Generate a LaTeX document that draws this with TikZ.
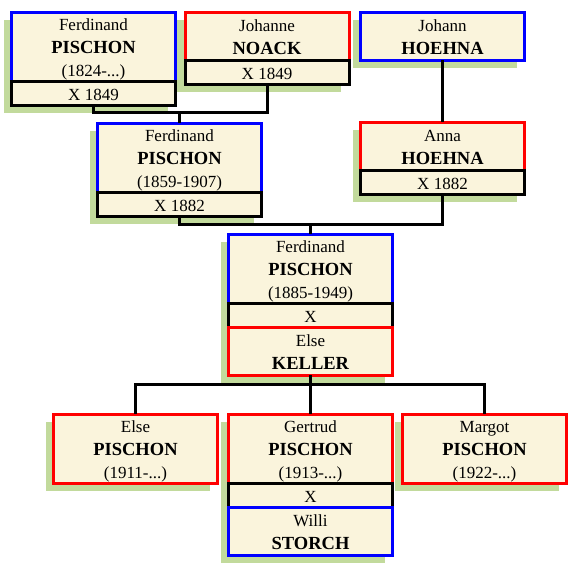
\documentclass[tikz,border=0pt]{standalone}
\usepackage{fontspec}
\setmainfont{Liberation Serif}
\usetikzlibrary{positioning, shadows}
\definecolor{paper}{HTML}{FAF4DC}
\definecolor{leaf}{HTML}{C2DA9C}
\definecolor{husband}{HTML}{0000FF}
\definecolor{wife}{HTML}{FF0000}
\newcommand{\ls}{\rule[-4.5pt]{0pt}{23pt}}
\newcommand{\surname}[1]{{\fontsize{18.5}{23}\selectfont\bfseries #1}}

\begin{document}
\begin{tikzpicture}[x=1pt, y=-1pt,
    person/.style={draw, line width=3pt, fill=paper, inner sep=0pt, outer sep=0pt,
                   minimum width=164pt, minimum height=69pt, align=center,
                   font=\fontsize{17}{23}\selectfont,
                   drop shadow={shadow xshift=-8pt, shadow yshift=-8pt,
                                fill=leaf, opacity=1}},
    male/.style={person, draw=husband},
    female/.style={person, draw=wife},
    wed/.style={person, draw=black, minimum height=24pt},
    link/.style={line width=3pt}]
  \useasboundingbox (0,0) rectangle (570,570);

  % grandparents
  \node[male, anchor=north] (ferd1824) at (93.5,12)
    {\ls Ferdinand\\ \ls\surname{PISCHON}\\ \ls(1824-...)};
  \node[wed, below=0pt of ferd1824] (ferd1824x) {\ls X 1849};
  \node[female, anchor=north, minimum height=48pt] (johanne) at (267,12)
    {\ls Johanne\\ \ls\surname{NOACK}};
  \node[wed, below=0pt of johanne] (johannex) {\ls X 1849};
  \node[male, anchor=north, minimum height=48pt] (johann) at (442.5,12)
    {\ls Johann\\ \ls\surname{HOEHNA}};

  % parents
  \node[male, anchor=north] (ferd1859) at (179.5,123)
    {\ls Ferdinand\\ \ls\surname{PISCHON}\\ \ls(1859-1907)};
  \node[wed, below=0pt of ferd1859] (ferd1859x) {\ls X 1882};
  \node[female, anchor=north, minimum height=48pt] (anna) at (442.5,122)
    {\ls Anna\\ \ls\surname{HOEHNA}};
  \node[wed, below=0pt of anna] (annax) {\ls X 1882};

  % Ferdinand and Else
  \node[male, anchor=north] (ferd1885) at (310.5,234)
    {\ls Ferdinand\\ \ls\surname{PISCHON}\\ \ls(1885-1949)};
  \node[wed, below=0pt of ferd1885] (ferd1885x) {\ls X};
  \node[female, below=0pt of ferd1885x, minimum height=48pt] (keller)
    {\ls Else\\ \ls\surname{KELLER}};

  % children
  \node[female, anchor=north] (else) at (135.5,414)
    {\ls Else\\ \ls\surname{PISCHON}\\ \ls(1911-...)};
  \node[female, anchor=north] (gertrud) at (310.5,414)
    {\ls Gertrud\\ \ls\surname{PISCHON}\\ \ls(1913-...)};
  \node[wed, below=0pt of gertrud] (gertrudx) {\ls X};
  \node[male, below=0pt of gertrudx, minimum height=48pt] (storch)
    {\ls Willi\\ \ls\surname{STORCH}};
  \node[female, anchor=north] (margot) at (484.5,414)
    {\ls Margot\\ \ls\surname{PISCHON}\\ \ls(1922-...)};

  \coordinate (j1) at (179.5,112);
  \coordinate (j2) at (310.5,224);
  \coordinate (j3) at (310.5,384);
  \draw[link] (ferd1824x) |- (j1) -| (johannex);
  \draw[link] (j1) -- (ferd1859);
  \draw[link] (johann) -- (anna);
  \draw[link] (ferd1859x) |- (j2) -| (annax);
  \draw[link] (j2) -- (ferd1885);
  \draw[link] (keller) -- (j3);
  \draw[link] (else) |- (j3) -| (margot);
  \draw[link] (j3) -- (gertrud);
\end{tikzpicture}
\end{document}
